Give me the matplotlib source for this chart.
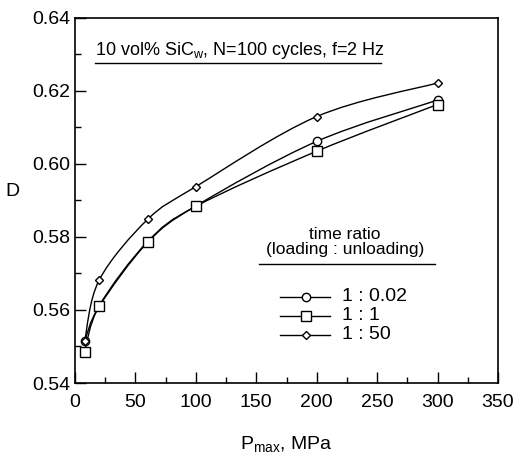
import numpy as np
import matplotlib.pyplot as plt
from matplotlib.path import Path
from matplotlib.patches import PathPatch
from matplotlib.lines import Line2D

plt.rcParams['font.family'] = ['Liberation Sans', 'DejaVu Sans']

# data
p_max = [8, 20, 60, 100, 200, 300]
d_circle = [0.5515, 0.561, 0.5785, 0.5885, 0.6062, 0.6175]   # 1 : 0.02
d_square = [0.5486, 0.5611, 0.5787, 0.5884, 0.6035, 0.6163]  # 1 : 1
d_diamond = [0.5515, 0.5682, 0.5848, 0.5938, 0.6130, 0.6222]  # 1 : 50
labels = ['1 : 0.02', '1 : 1', '1 : 50']


def smooth_path(x, y):
    # catmull-rom through the points, turned into cubic bezier segments
    pts = np.column_stack([x, y]).astype(float)
    verts = [pts[0]]
    codes = [Path.MOVETO]
    n = len(pts)
    for i in range(n - 1):
        p0 = pts[i - 1] if i > 0 else pts[i]
        p1 = pts[i]
        p2 = pts[i + 1]
        p3 = pts[i + 2] if i + 2 < n else pts[i + 1]
        c1 = p1 + (p2 - p0) / 6.0
        c2 = p2 - (p3 - p1) / 6.0
        verts += [c1, c2, p2]
        codes += [Path.CURVE4] * 3
    return Path(verts, codes)


fig = plt.figure(figsize=(5.31, 4.57), dpi=100)
ax = fig.add_axes([75 / 531, 74 / 457, 423 / 531, 365 / 457])

series = [(d_circle, 'o', 6), (d_square, 's', 7), (d_diamond, 'D', 4.5)]
for d, m, ms in series:
    ax.add_patch(PathPatch(smooth_path(p_max, d), fill=False, lw=1.0, ec='black'))
    ax.plot(p_max, d, ls='none', marker=m, ms=ms, mfc='white', mec='black', mew=1.0, zorder=3)

ax.set_xlim(0, 350)
ax.set_ylim(0.54, 0.64)
ax.set_xticks(np.arange(0, 351, 50))
ax.set_xticks(np.arange(0, 351, 25), minor=True)
ax.set_yticks(np.arange(0.54, 0.641, 0.02))
ax.set_yticks(np.arange(0.54, 0.641, 0.01), minor=True)
ax.set_yticklabels(['%.2f' % v for v in np.arange(0.54, 0.641, 0.02)])
ax.tick_params(which='both', direction='in', labelsize=14, top=False, right=False)
ax.tick_params(which='major', length=8, width=1)
ax.tick_params(which='minor', length=4, width=1)
ax.tick_params(axis='x', pad=8)
for s in ax.spines.values():
    s.set_linewidth(1.2)

ax.set_xlabel('P$_{\\mathregular{max}}$, MPa', fontsize=14, labelpad=17)
ax.set_ylabel('D', fontsize=14, rotation=0, labelpad=14)

# header text with rule underneath
ax.text(0.047, 0.912, '10 vol% SiC$_{\\mathregular{w}}$, N=100 cycles, f=2 Hz',
        transform=ax.transAxes, fontsize=13, ha='left', va='center')
ax.add_line(Line2D([0.047, 0.723], [0.877, 0.877], transform=ax.transAxes, color='black', lw=1))

# legend drawn by hand
ax.text(0.638, 0.387, 'time ratio\n(loading : unloading)', transform=ax.transAxes,
        fontsize=12.5, ha='center', va='center', linespacing=1.0)
ax.add_line(Line2D([0.435, 0.85], [0.326, 0.326], transform=ax.transAxes, color='black', lw=1))
for k, (d, m, ms) in enumerate(series):
    yy = 0.236 - k * 0.052
    ax.add_line(Line2D([0.485, 0.603], [yy, yy], transform=ax.transAxes, color='black', lw=1))
    ax.add_line(Line2D([0.545], [yy], transform=ax.transAxes, ls='none', marker=m, ms=ms,
                       mfc='white', mec='black', mew=1.0))
    ax.text(0.631, yy, labels[k], transform=ax.transAxes, fontsize=14, ha='left', va='center')

fig.savefig('out.png', dpi=100)
